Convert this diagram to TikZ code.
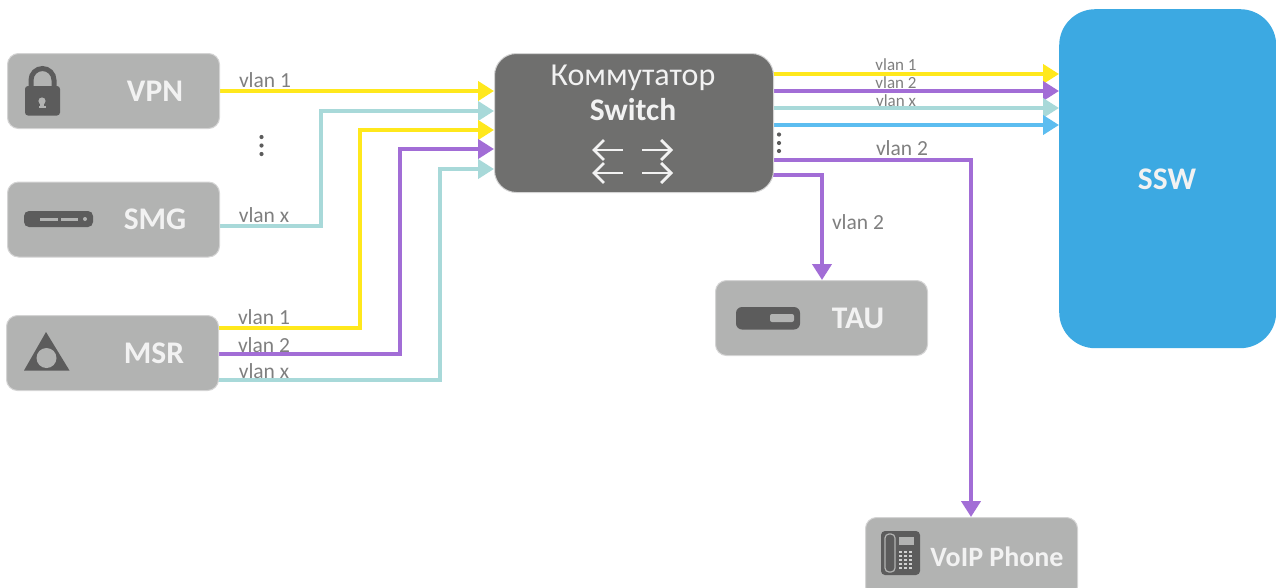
\documentclass[tikz,border=0pt]{standalone}
\usepackage{fontspec}
\setmainfont{Carlito}
\usetikzlibrary{arrows.meta}
\definecolor{boxgray}{HTML}{B2B3B2}
\definecolor{boxedge}{HTML}{D4D4D4}
\definecolor{swgray}{HTML}{6F6F6E}
\definecolor{icongray}{HTML}{5C5C5C}
\definecolor{ssw}{HTML}{3CA9E2}
\definecolor{yel}{HTML}{FFE81C}
\definecolor{pur}{HTML}{A26DD6}
\definecolor{teal2}{HTML}{A8D9D9}
\definecolor{blu}{HTML}{5CBDF0}
\definecolor{lab}{HTML}{7F7F7F}
\definecolor{txtw}{HTML}{F2F2F2}
\tikzset{
  x=1pt,y=-1pt,
  devbox/.style={draw=boxedge,line width=1pt,fill=boxgray,rounded corners=11pt,minimum width=212pt,minimum height=75pt,inner sep=0pt,anchor=north west},
  devname/.style={text=txtw,font=\fontsize{31.5}{31.5}\selectfont\bfseries,inner sep=0pt},
  vl/.style={text=lab,font=\fontsize{21.5}{21.5}\selectfont,inner sep=0pt},
  vls/.style={text=lab,font=\fontsize{17}{17}\selectfont,inner sep=0pt},
  flow/.style={line width=4pt,-{Triangle[length=16pt,width=19pt]}},
  ic/.style={fill=icongray,draw=none},
  dotm/.style={fill=icongray,draw=none},
  swarrow/.style={draw=txtw,line width=2.8pt,-{Straight Barb[length=10pt,width=20pt,line width=2.8pt]}}
}
\begin{document}
\begin{tikzpicture}
\useasboundingbox (0,0) rectangle (1276,587);
\clip (0,0) rectangle (1276,587);
% ports
\coordinate (in1) at (494,91);
\coordinate (in2) at (494,111);
\coordinate (in3) at (494,130);
\coordinate (in4) at (494,149);
\coordinate (in5) at (494,169);
\coordinate (sw1) at (773,74);
\coordinate (sw2) at (773,91);
\coordinate (sw3) at (773,108);
\coordinate (sw4) at (773,125);
\coordinate (sw5) at (773,160);
\coordinate (sw6) at (773,175);
\coordinate (ss1) at (1059,74);
\coordinate (ss2) at (1059,91);
\coordinate (ss3) at (1059,108);
\coordinate (ss4) at (1059,125);
\coordinate (vp1) at (219,91);
\coordinate (sm1) at (219,226);
\coordinate (ms1) at (218,328);
\coordinate (ms2) at (218,354);
\coordinate (ms3) at (218,380);
\coordinate (b2) at (321,200);
\coordinate (b3) at (360,200);
\coordinate (b4) at (400,200);
\coordinate (b5) at (440,200);
\coordinate (taup) at (822,280);
\coordinate (voipp) at (971,517);
% connectors
\draw[flow,draw=yel] (vp1) -- (in1);
\draw[flow,draw=teal2] (sm1) -| (b2) |- (in2);
\draw[flow,draw=yel] (ms1) -| (b3) |- (in3);
\draw[flow,draw=pur] (ms2) -| (b4) |- (in4);
\draw[flow,draw=teal2] (ms3) -| (b5) |- (in5);
\draw[flow,draw=yel] (sw1) -- (ss1);
\draw[flow,draw=pur] (sw2) -- (ss2);
\draw[flow,draw=teal2] (sw3) -- (ss3);
\draw[flow,draw=blu] (sw4) -- (ss4);
\draw[flow,draw=pur] (sw5) -| (voipp);
\draw[flow,draw=pur] (sw6) -| (taup);
% boxes
\node[devbox] (vpn) at (7,53) {};
\node[devbox] (smg) at (7,181.5) {};
\node[devbox] (msr) at (6,315) {};
\node[devbox] (tau) at (715,280) {};
\node[devbox,minimum height=80pt] (voip) at (865,517) {};
\node[draw=boxedge,line width=1pt,fill=swgray,rounded corners=22pt,minimum width=279pt,minimum height=139pt,anchor=north west,inner sep=0pt] (switch) at (494,53) {};
\node[fill=ssw,rounded corners=36pt,minimum width=217pt,minimum height=339pt,anchor=north west,inner sep=0pt] (sswbox) at (1059,9) {};
% names
\node[devname] (tvpn) at (155,91) {VPN};
\node[devname] (tsmg) at (155,219) {SMG};
\node[devname] (tmsr) at (154,353) {MSR};
\node[devname] (ttau) at (858,318) {TAU};
\node[devname,font=\fontsize{28}{28}\selectfont\bfseries] (tvoip) at (997,557) {VoIP Phone};
\node[devname] (tssw) at (1167,179) {SSW};
\node[text=txtw,font=\fontsize{32}{32}\selectfont,inner sep=0pt] (tsw1) at (633,78) {Коммутатор};
\node[devname] (tsw2) at (633,110) {Switch};
% vlan labels
\node[vl] (l1) at (265,80) {vlan 1};
\node[vl] (l2) at (264,215) {vlan x};
\node[vl] (l3) at (264,317) {vlan 1};
\node[vl] (l4) at (264,345) {vlan 2};
\node[vl] (l5) at (264,371) {vlan x};
\node[vls] (l6) at (896,65) {vlan 1};
\node[vls] (l7) at (896,83) {vlan 2};
\node[vls] (l8) at (896,101) {vlan x};
\node[vl] (l9) at (902,148) {vlan 2};
\node[vl] (l10) at (858,222) {vlan 2};
% dots
\foreach \y in {137,145.5,154} \fill[dotm] (261.5,\y) circle (2.1pt);
\foreach \y in {134.5,143,151} \fill[dotm] (779,\y) circle (2.1pt);
% switch arrows
\coordinate (a1s) at (623,150); \coordinate (a1e) at (592,150);
\coordinate (a2s) at (642,150); \coordinate (a2e) at (673,150);
\coordinate (a3s) at (623,173); \coordinate (a3e) at (592,173);
\coordinate (a4s) at (642,173); \coordinate (a4e) at (673,173);
\draw[swarrow] (a1s) -- (a1e);
\draw[swarrow] (a2s) -- (a2e);
\draw[swarrow] (a3s) -- (a3e);
\draw[swarrow] (a4s) -- (a4e);
% lock icon
\draw[icongray,line width=5pt] (31,90) -- (31,80) arc[start angle=180,end angle=0,x radius=11.5pt,y radius=11.5pt] -- (54,90);
\fill[ic,rounded corners=3pt] (25,86) rectangle (60,115.5);
\fill[boxgray] (42,101) circle (3.6pt);
\fill[boxgray] (40,101) rectangle (44,107.5);
\fill[boxgray] (38.5,106) rectangle (45.5,108);
% SMG icon
\fill[ic,rounded corners=5pt] (24,211) rectangle (93,227);
\fill[boxgray] (40,217.5) rectangle (58,220.5);
\fill[boxgray] (61,217.5) rectangle (78,220.5);
\fill[boxgray] (85,219) circle (2pt);
% MSR icon
\fill[ic] (46,332) -- (69.5,370.5) -- (24,370.5) -- cycle;
\fill[boxgray] (46.5,358) circle (10pt);
% TAU icon
\fill[ic,rounded corners=6pt] (736,307) rectangle (800,329.5);
\fill[boxgray,rounded corners=2pt] (770,314) rectangle (794,322);
% phone icon
\fill[ic,rounded corners=4pt] (881,531) rectangle (920,575);
\draw[boxgray,line width=1.2pt,rounded corners=4pt] (885,534) rectangle (895,572);
\fill[boxgray] (899,537) rectangle (914,545);
\foreach \y in {552,556,560,564,568}
  \foreach \x in {899,904,909} \fill[boxgray!60!white] (\x,\y-0.7) rectangle (\x+3.4,\y+0.7);
\end{tikzpicture}
\end{document}
